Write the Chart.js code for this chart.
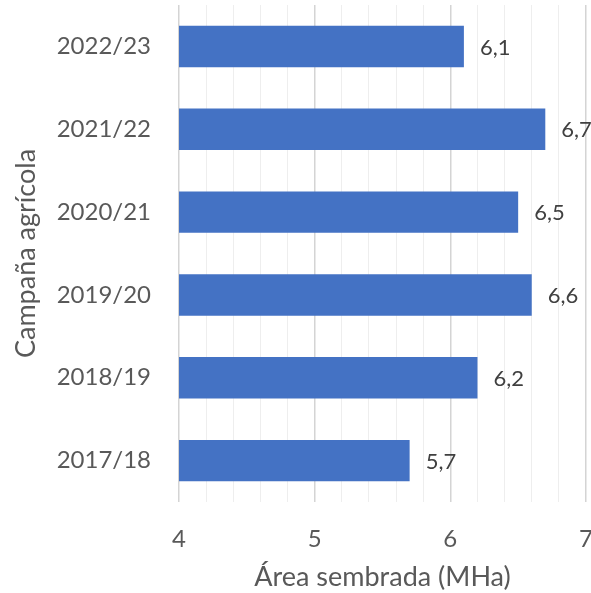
<!DOCTYPE html>
<html>
<head>
<meta charset="utf-8">
<script src="https://cdn.jsdelivr.net/npm/chart.js@4"></script>
<style>
  html, body { margin: 0; padding: 0; background: #fff; }
  #wrap { width: 591px; height: 593px; }
</style>
</head>
<body>
<div id="wrap"><canvas id="areaChart" width="591" height="593"></canvas></div>
<script>
// Campañas (de arriba hacia abajo) y área sembrada en millones de hectáreas
const campaigns = ["2022/23", "2021/22", "2020/21", "2019/20", "2018/19", "2017/18"];
const areaValues = [6.1, 6.7, 6.5, 6.6, 6.2, 5.7];
const xTicks = [4, 5, 6, 7];

const FONT = "Lato, 'Open Sans', sans-serif";
const isMajor = (v) => xTicks.some((t) => Math.abs(t - v) < 1e-6);

// Etiquetas de valor al final de cada barra
const valueLabels = {
  id: "valueLabels",
  afterDatasetsDraw(chart) {
    const ctx = chart.ctx;
    const meta = chart.getDatasetMeta(0);
    ctx.save();
    ctx.font = "22px " + FONT;
    ctx.fillStyle = "#404040";
    ctx.textAlign = "left";
    ctx.textBaseline = "middle";
    meta.data.forEach((bar, i) => {
      const txt = areaValues[i].toFixed(1).replace(".", ",");
      ctx.fillText(txt, bar.x + 16, bar.y + 1);
    });
    ctx.restore();
  }
};

const ctx = document.getElementById("areaChart").getContext("2d");
const areaChart = new Chart(ctx, {
  type: "bar",
  data: {
    labels: campaigns,
    datasets: [{
      data: areaValues,
      backgroundColor: "#4472C4",
      borderWidth: 0,
      categoryPercentage: 0.5,
      barPercentage: 1.0,
    }],
  },
  options: {
    indexAxis: "y",
    responsive: false,
    animation: false,
    layout: { padding: { top: 5, right: 5, left: 0, bottom: 0 } },
    plugins: {
      legend: { display: false },
      tooltip: { enabled: false },
    },
    scales: {
      x: {
        min: 4,
        max: 7,
        border: { display: false },
        grid: {
          drawTicks: false,
          color: (c) => (isMajor(c.tick.value) ? "#d4d4d4" : "#eeeeee"),
          lineWidth: (c) => (isMajor(c.tick.value) ? 1.5 : 1),
        },
        ticks: {
          stepSize: 0.2,
          autoSkip: false,
          maxRotation: 0,
          padding: 23,
          color: "#595959",
          font: { family: FONT, size: 24 },
          callback: (v) => (isMajor(v) ? String(Math.round(v)) : ""),
        },
        title: {
          display: true,
          text: "Área sembrada (MHa)",
          color: "#595959",
          font: { family: FONT, size: 27 },
          padding: { top: 2, bottom: 0 },
        },
        afterFit: (scale) => {
          scale.height = 91;
          scale.paddingLeft = 0;
          scale.paddingRight = 0;
        },
      },
      y: {
        border: { display: false },
        grid: { display: false, drawTicks: false },
        ticks: {
          padding: 28,
          color: "#595959",
          font: { family: FONT, size: 24 },
        },
        title: {
          display: true,
          text: "Campaña agrícola",
          color: "#595959",
          font: { family: FONT, size: 27 },
          padding: { top: 10, bottom: 8 },
        },
        afterFit: (scale) => {
          scale.width = 179;
          scale.paddingTop = 0;
          scale.paddingBottom = 0;
        },
      },
    },
  },
  plugins: [valueLabels],
});
</script>
</body>
</html>
